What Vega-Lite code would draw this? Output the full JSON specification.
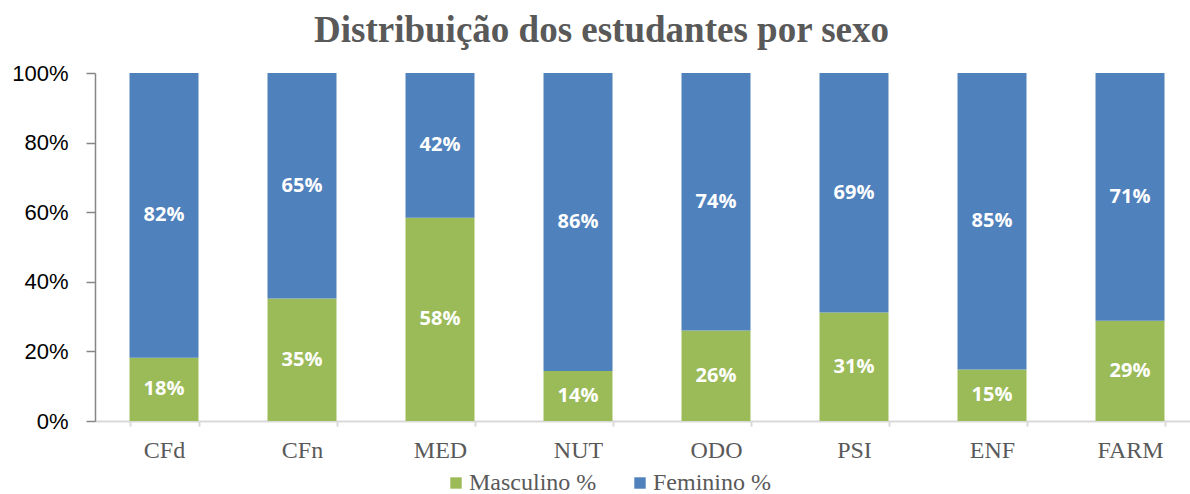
{
  "$schema": "https://vega.github.io/schema/vega-lite/v6.json",
  "autosize": {"type": "none"},
  "padding": {"left": 95, "top": 73, "right": 0, "bottom": 73},
  "width": 1095,
  "height": 348,
  "background": "white",
  "config": {"view": {"stroke": null}},
  "title": {
    "text": "Distribuição dos estudantes por sexo",
    "font": "Liberation Serif",
    "fontSize": 37,
    "fontWeight": "bold",
    "color": "#595959",
    "anchor": "middle",
    "dx": -41,
    "baseline": "alphabetic",
    "offset": -17
  },
  "data": {
    "values": [
      {"curso": "CFd", "sexo": "Masculino %", "ord": 0, "v": 0.182},
      {"curso": "CFd", "sexo": "Feminino %", "ord": 1, "v": 0.818},
      {"curso": "CFn", "sexo": "Masculino %", "ord": 0, "v": 0.352},
      {"curso": "CFn", "sexo": "Feminino %", "ord": 1, "v": 0.648},
      {"curso": "MED", "sexo": "Masculino %", "ord": 0, "v": 0.584},
      {"curso": "MED", "sexo": "Feminino %", "ord": 1, "v": 0.416},
      {"curso": "NUT", "sexo": "Masculino %", "ord": 0, "v": 0.144},
      {"curso": "NUT", "sexo": "Feminino %", "ord": 1, "v": 0.856},
      {"curso": "ODO", "sexo": "Masculino %", "ord": 0, "v": 0.26},
      {"curso": "ODO", "sexo": "Feminino %", "ord": 1, "v": 0.74},
      {"curso": "PSI", "sexo": "Masculino %", "ord": 0, "v": 0.312},
      {"curso": "PSI", "sexo": "Feminino %", "ord": 1, "v": 0.688},
      {"curso": "ENF", "sexo": "Masculino %", "ord": 0, "v": 0.148},
      {"curso": "ENF", "sexo": "Feminino %", "ord": 1, "v": 0.852},
      {"curso": "FARM", "sexo": "Masculino %", "ord": 0, "v": 0.288},
      {"curso": "FARM", "sexo": "Feminino %", "ord": 1, "v": 0.712}
    ]
  },
  "transform": [
    {"stack": "v", "groupby": ["curso"], "sort": [{"field": "ord", "order": "ascending"}], "as": ["v0", "v1"]}
  ],
  "encoding": {
    "x": {
      "field": "curso",
      "type": "nominal",
      "sort": ["CFd", "CFn", "MED", "NUT", "ODO", "PSI", "ENF", "FARM"],
      "scale": {"paddingInner": 0.5, "paddingOuter": 0.25, "range": [0, 1104]},
      "axis": {
        "title": null,
        "labelAngle": 0,
        "labelFont": "Liberation Serif",
        "labelFontSize": 24,
        "labelColor": "#595959",
        "domainColor": "#d9d9d9",
        "domainWidth": 2,
        "tickColor": "#d9d9d9",
        "tickWidth": 2,
        "tickSize": 5,
        "tickBand": "extent",
        "labelPadding": 12,
        "zindex": 0
      }
    }
  },
  "layer": [
    {
      "mark": {"type": "bar"},
      "encoding": {
        "y": {
          "field": "v0",
          "type": "quantitative",
          "scale": {"domain": [0, 1], "nice": false},
          "axis": {
            "title": null,
            "values": [0, 0.2, 0.4, 0.6, 0.8, 1],
            "format": ".0%",
            "grid": false,
            "labelFont": "Liberation Sans",
            "labelFontSize": 22,
            "labelColor": "#000000",
            "domainColor": "#868686",
            "domainWidth": 1.5,
            "tickColor": "#868686",
            "tickWidth": 1.5,
            "tickSize": 9,
            "labelPadding": 18,
            "zindex": 1
          }
        },
        "y2": {"field": "v1"},
        "color": {
          "field": "sexo",
          "type": "nominal",
          "scale": {"domain": ["Masculino %", "Feminino %"], "range": ["#9BBB59", "#4F81BD"]},
          "legend": {
            "title": null,
            "orient": "none",
            "direction": "horizontal",
            "legendX": 349,
            "legendY": 398,
            "padding": 0,
            "symbolType": "square",
            "symbolSize": 130,
            "symbolStrokeWidth": 0,
            "labelFont": "Liberation Serif",
            "labelFontSize": 24,
            "labelColor": "#595959",
            "labelOffset": 1,
            "columnPadding": 31
          }
        }
      }
    },
    {
      "transform": [
        {"fold": ["v0", "v1"], "as": ["edge", "pos"]},
        {"aggregate": [{"op": "mean", "field": "pos", "as": "mid"}], "groupby": ["curso", "sexo", "v"]}
      ],
      "mark": {"type": "text", "color": "white", "font": "Open Sans", "fontWeight": "bold", "fontSize": 20, "baseline": "middle"},
      "encoding": {
        "y": {"field": "mid", "type": "quantitative"},
        "text": {"field": "v", "type": "quantitative", "format": ".0%"}
      }
    }
  ]
}
